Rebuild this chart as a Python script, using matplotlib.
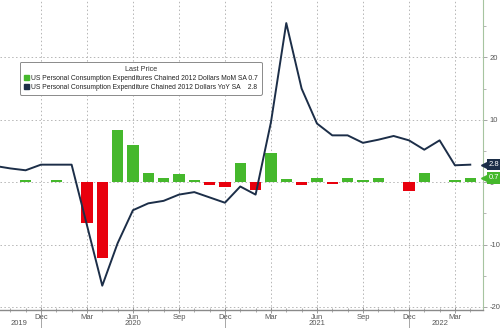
import matplotlib
matplotlib.use("Agg")
import matplotlib.pyplot as plt
from matplotlib.patches import Patch
from matplotlib.ticker import FixedLocator, MultipleLocator

plt.rcParams['font.family'] = ['Liberation Sans', 'DejaVu Sans']
plt.rcParams['axes.unicode_minus'] = False

# monthly, Sep 2019 .. Apr 2022
meses = ["Sep19", "Oct19", "Nov19", "Dec19",
         "Jan20", "Feb20", "Mar20", "Apr20", "May20", "Jun20", "Jul20", "Aug20",
         "Sep20", "Oct20", "Nov20", "Dec20",
         "Jan21", "Feb21", "Mar21", "Apr21", "May21", "Jun21", "Jul21", "Aug21",
         "Sep21", "Oct21", "Nov21", "Dec21",
         "Jan22", "Feb22", "Mar22", "Apr22"]

mom = [0.1, 0.1, 0.3, -0.05,
       0.35, 0.05, -6.6, -12.1, 8.4, 5.9, 1.4, 0.65,
       1.3, 0.35, -0.45, -0.85,
       3.0, -1.25, 4.6, 0.5, -0.5, 0.7, -0.3, 0.7,
       0.3, 0.7, 0.05, -1.35,
       1.5, 0.1, 0.4, 0.7]

yoy = [2.6, 2.2, 1.9, 2.8,
       2.8, 2.8, -6.9, -16.6, -9.8, -4.5, -3.4, -3.0,
       -2.0, -1.6, -2.45, -3.3,
       -0.7, -2.0, 9.6, 25.5, 15.0, 9.4, 7.5, 7.5,
       6.3, 6.8, 7.4, 6.7,
       5.2, 6.7, 2.7, 2.8]

etiquetas_mes = ["Dec", "Mar", "Jun", "Sep", "Dec", "Mar", "Jun", "Sep", "Dec", "Mar"]
pos_mes = [3, 6, 9, 12, 15, 18, 21, 24, 27, 30]
etiquetas_anio = ["2019", "2020", "2021", "2022"]
pos_anio = [1.6, 9, 21, 29]
cortes_anio = [3, 15, 27]

verde = "#45b82c"
rojo = "#e8000d"
azul = "#1c2e48"
gris = "#555555"

x = list(range(len(meses)))

fig = plt.figure(figsize=(5.0, 3.28), dpi=100)
ax = fig.add_axes([0.0, 1 - 310 / 328, 483 / 500, 310 / 328])

colores = [verde if v >= 0 else rojo for v in mom]
ax.bar(x, mom, width=0.75, color=colores, zorder=2)
ax.plot(x, yoy, color=azul, lw=1.4, zorder=3)

ax.set_xlim(0.33, 31.83)
ax.set_ylim(-20.5, 29.2)

# right-hand axis only
ax.yaxis.tick_right()
ax.yaxis.set_major_locator(MultipleLocator(10))
ax.yaxis.set_minor_locator(MultipleLocator(5))
ax.tick_params(axis='y', which='major', direction='out', length=3, width=0.6,
               color='#999999', labelsize=5.5, labelcolor=gris, pad=1.5)
ax.tick_params(axis='y', which='minor', direction='out', length=2, width=0.5,
               color='#999999')

ax.xaxis.set_major_locator(FixedLocator(pos_mes))
ax.xaxis.set_minor_locator(MultipleLocator(1))
ax.set_xticklabels(etiquetas_mes)
ax.tick_params(axis='x', which='major', direction='inout', length=4, width=0.6,
               color='#888888', labelsize=5.5, labelcolor=gris, pad=1)
ax.tick_params(axis='x', which='minor', direction='inout', length=2.5, width=0.5,
               color='#888888')

for lado in ["left", "top"]:
    ax.spines[lado].set_visible(False)
ax.spines["bottom"].set_color("#8a8a8a")
ax.spines["bottom"].set_linewidth(1.0)
ax.spines["right"].set_color("#a6c4a0")
ax.spines["right"].set_linewidth(0.8)

ax.grid(True, which='major', linestyle=(0, (1.5, 2.5)), color='#b5b5b5', lw=0.7, zorder=0)
ax.set_axisbelow(True)

# year labels and separators under the axis
trans = ax.get_xaxis_transform()
for p, a in zip(pos_anio, etiquetas_anio):
    ax.text(p, -0.043, a, transform=trans, ha='center', va='center',
            fontsize=5.5, color=gris)
for c in cortes_anio:
    ax.plot([c, c], [0, -0.06], transform=trans, color='#999999', lw=0.6,
            clip_on=False)

# last value tags on the right axis
for valor, col in [(yoy[-1], azul), (mom[-1], verde)]:
    ax.plot(1.003, valor, marker='<', ms=5, color=col, clip_on=False,
            transform=ax.get_yaxis_transform(), zorder=6)
    ax.text(1.012, valor, f"{valor:.1f}", transform=ax.get_yaxis_transform(),
            ha='left', va='center', fontsize=5.5, color='white', zorder=7,
            bbox=dict(boxstyle='square,pad=0.3', fc=col, ec='none'))

manejadores = [Patch(color=verde), Patch(color=azul)]
textos = ["US Personal Consumption Expenditures Chained 2012 Dollars MoM SA 0.7",
          "US Personal Consumption Expenditure Chained 2012 Dollars YoY SA    2.8"]
leg = ax.legend(manejadores, textos, title="Last Price", fontsize=4.9,
                title_fontsize=5.2, loc='upper left', bbox_to_anchor=(0.041, 0.8),
                frameon=True, fancybox=True, edgecolor='#8a8a8a', framealpha=1,
                handlelength=0.8, handleheight=0.8, handletextpad=0.3,
                borderpad=0.55, labelspacing=0.3, borderaxespad=0)
leg.get_frame().set_linewidth(0.7)
leg.get_title().set_color('#333333')
for t in leg.get_texts():
    t.set_color('#222222')

fig.savefig("out.png", dpi=100)
